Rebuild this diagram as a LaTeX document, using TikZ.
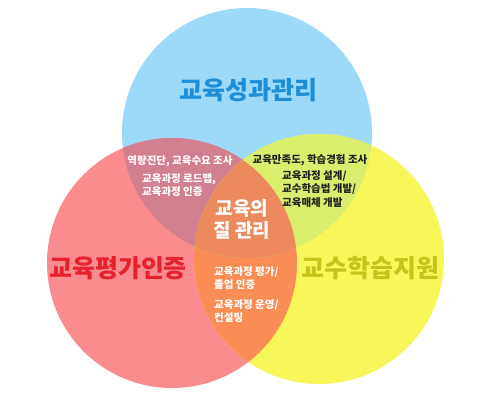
\documentclass[tikz,border=0pt]{standalone}
\usepackage{fontspec}
\setmainfont{Noto Sans CJK KR}
\usetikzlibrary{positioning}

\definecolor{skyfill}{HTML}{9DDAFA}
\definecolor{rosefill}{HTML}{FA8C8F}
\definecolor{lemonfill}{HTML}{F7F75A}
\definecolor{mauvefill}{HTML}{D28090}
\definecolor{limefill}{HTML}{D8EE6C}
\definecolor{orangefill}{HTML}{FA8C55}
\definecolor{corefill}{HTML}{EC8A5E}
\definecolor{skytext}{HTML}{1E8FD6}
\definecolor{rosetext}{HTML}{E5222B}
\definecolor{lemontext}{HTML}{C4C41A}
\definecolor{darktext}{HTML}{222222}

\begin{document}
\begin{tikzpicture}
    [x=1pt,y=-1pt,
    title/.style={font=\bfseries\fontsize{25}{28}\selectfont},
    core/.style={font=\bfseries\fontsize{19}{22}\selectfont,white,align=center},
    note/.style={font=\bfseries\fontsize{10.5}{13.5}\selectfont,align=left,inner sep=0pt}]
    \useasboundingbox (0,0) rectangle (480,402);
    \fill[white] (0,0) rectangle (480,402);
    \coordinate (outcome) at (247,133);
    \coordinate (assess) at (172,263);
    \coordinate (support) at (319,259);
    % circles
    \fill[skyfill] (outcome) circle (125pt);
    \fill[rosefill] (assess) circle (125pt);
    \fill[lemonfill] (support) circle (125pt);
    \begin{scope}
        \clip (assess) circle (125pt);
        \fill[orangefill] (support) circle (125pt);
    \end{scope}
    \begin{scope}
        \clip (outcome) circle (125pt);
        \fill[mauvefill] (assess) circle (125pt);
        \fill[limefill] (support) circle (125pt);
        \clip (assess) circle (125pt);
        \fill[corefill] (support) circle (125pt);
    \end{scope}
    % titles
    \node[title,skytext] (outcome title) at (248,90) {교육성과관리};
    \node[title,rosetext] (assess title) at (118,268) {교육평가인증};
    \node[title,lemontext] (support title) at (370,268) {교수학습지원};
    \node[core] (quality) at (242,219) {교육의\\질 관리};
    % overlaps
    \node[note,white] (diagnosis) at (180,161) {역량진단, 교육수요 조사};
    \node[note,white,anchor=west] (roadmap) at (142,185) {교육과정 로드맵,\\교육과정 인증};
    \node[note,darktext] (survey) at (310,160) {교육만족도, 학습경험 조사};
    \node[note,darktext,anchor=west] (design) at (282,189) {교육과정 설계/\\교수학습법 개발/\\교육매체 개발};
    \node[note,white,anchor=west] (evaluation) at (214,278) {교육과정 평가/\\졸업 인증};
    \node[note,white,anchor=west] (consulting) at (214,311) {교육과정 운영/\\컨설팅};
\end{tikzpicture}
\end{document}
